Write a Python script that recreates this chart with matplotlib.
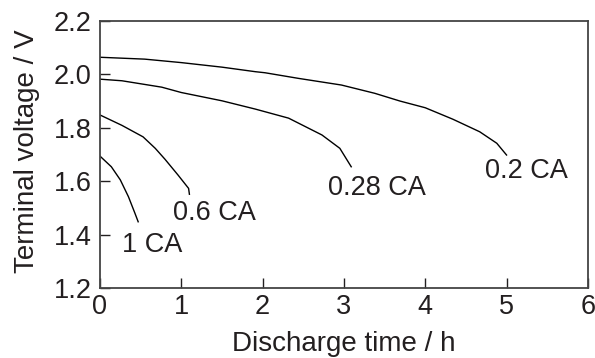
import matplotlib.pyplot as plt

plt.rcParams['font.family'] = ['Liberation Sans', 'DejaVu Sans']

# discharge curves (time h, voltage V)
t_02 = [0, 0.55, 1.0, 1.50, 1.91, 2.03, 2.44, 2.97, 3.38, 3.69, 4.00, 4.34, 4.67, 4.88, 5.0]
v_02 = [2.064, 2.057, 2.044, 2.027, 2.010, 2.006, 1.985, 1.960, 1.929, 1.900, 1.875, 1.832, 1.785, 1.742, 1.698]

t_028 = [0, 0.27, 0.76, 1.0, 1.50, 1.91, 2.32, 2.73, 2.95, 3.09]
v_028 = [1.982, 1.976, 1.952, 1.932, 1.901, 1.870, 1.836, 1.773, 1.723, 1.654]

t_06 = [0, 0.27, 0.53, 0.68, 0.80, 0.96, 1.09, 1.10]
v_06 = [1.848, 1.809, 1.766, 1.723, 1.682, 1.623, 1.573, 1.551]

t_1 = [0, 0.14, 0.25, 0.35, 0.43, 0.47]
v_1 = [1.694, 1.654, 1.605, 1.542, 1.480, 1.448]

labels = ['0.2 CA', '0.28 CA', '0.6 CA', '1 CA']
label_pos = [(5.25, 1.64), (3.41, 1.575), (1.41, 1.48), (0.64, 1.36)]

ink = '#231f20'

fig = plt.figure(figsize=(5.95, 3.58), dpi=100)
ax = fig.add_axes([0.168, 0.1955, 0.82, 0.746])

for t, v in [(t_02, v_02), (t_028, v_028), (t_06, v_06), (t_1, v_1)]:
    ax.plot(t, v, color='black', lw=1.0)

for lab, (x, y) in zip(labels, label_pos):
    ax.text(x, y, lab, ha='center', va='center', fontsize=19.5, color=ink)

ax.set_xlim(0, 6)
ax.set_ylim(1.2, 2.2)
ax.set_xticks(range(0, 7))
ax.set_yticks([1.2, 1.4, 1.6, 1.8, 2.0, 2.2])
ax.set_yticklabels(['1.2', '1.4', '1.6', '1.8', '2.0', '2.2'])
ax.tick_params(direction='in', length=7, width=1, labelsize=19.5, colors=ink)
ax.tick_params(axis='x', pad=4)
ax.tick_params(axis='y', pad=6)
for s in ax.spines.values():
    s.set_linewidth(1.3)
    s.set_color('#444444')

ax.set_xlabel('Discharge time / h', fontsize=20, color=ink)
ax.set_ylabel('Terminal voltage / V', fontsize=20, color=ink)
ax.xaxis.set_label_coords(0.5, -0.162)
ax.yaxis.set_label_coords(-0.123, 0.511)

plt.savefig('out.png', dpi=100)
